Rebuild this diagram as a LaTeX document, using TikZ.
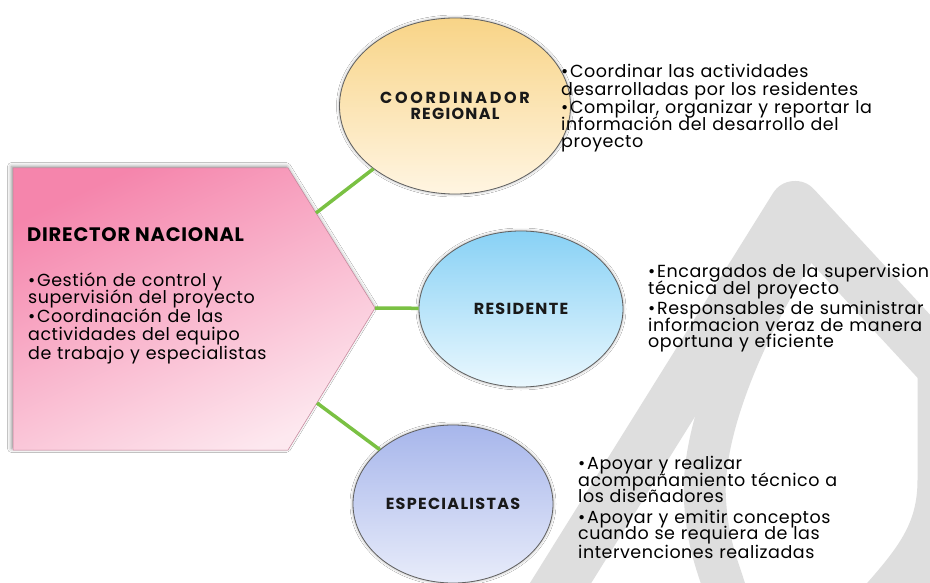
\documentclass[tikz,border=0pt]{standalone}
\usepackage{fontspec}
\setmainfont{Poppins}
\newfontfamily\headfont[LetterSpace=8]{Poppins}
\newfontfamily\headfontwide[LetterSpace=17]{Poppins}
\newfontfamily\titlefont[LetterSpace=4]{Poppins}
\newfontfamily\descfont[LetterSpace=3]{Poppins}
\usetikzlibrary{shapes.geometric,shadows.blur}
\definecolor{wmgray}{HTML}{DEDEDE}
\definecolor{linkgreen}{HTML}{7AC143}
\definecolor{pinktop}{HTML}{F585AC}
\definecolor{pinkbot}{HTML}{FDE8EF}
\definecolor{goldtop}{HTML}{F8D487}
\definecolor{goldbot}{HTML}{FFF5E2}
\definecolor{skytop}{HTML}{88D1F5}
\definecolor{skybot}{HTML}{EAF8FE}
\definecolor{lavtop}{HTML}{A7B6EB}
\definecolor{lavbot}{HTML}{E8ECFA}
\definecolor{edgegray}{HTML}{606060}
\newcommand\bitem{\par\noindent\hangindent=9pt\hangafter=1\makebox[9pt][l]{\textbullet}}
\newcommand\listsetup[2]{\fontsize{17.5}{#1}\selectfont\setlength{\parskip}{#2}\setlength{\lineskiplimit}{-20pt}\setlength{\lineskip}{0pt}}
\tikzset{
  wm/.style={draw=wmgray, line width=52pt, line cap=butt, line join=round},
  conn/.style={draw=linkgreen, line width=3.5pt},
  dirshape/.style={draw=pinktop!60!gray, line width=0.5pt, top color=pinktop, bottom color=pinkbot, shading angle=25,
     blur shadow={shadow xshift=-1.5pt, shadow yshift=1.5pt, shadow blur radius=4pt, shadow opacity=45}},
  bubble/.style={ellipse, draw=edgegray, line width=0.8pt, inner sep=0pt,
     blur shadow={shadow xshift=0pt, shadow yshift=0pt, shadow blur radius=3pt, shadow opacity=40},
     font=\headfont\bfseries\fontsize{16}{16}\selectfont, align=center, text=black!90},
  desc/.style={anchor=base west, inner sep=0pt, text width=380pt, align=left,
     font=\descfont\fontsize{17.5}{16.8}\selectfont, text=black},
}
\begin{document}
\begin{tikzpicture}[x=1pt,y=-1pt]
\useasboundingbox (0,0) rectangle (930,583);
\fill[white] (0,0) rectangle (930,583);
% watermark
\begin{scope}
\clip (0,0) rectangle (930,583);
\draw[wm] (550,600) -- (795,207) -- (955,380);
\draw[wm, line width=55pt] (945,340) -- (945,480) .. controls (945,535) and (920,565) .. (880,610);
\draw[wm, line width=42pt] (805,235) .. controls (760,300) and (700,420) .. (705,500) .. controls (708,550) and (720,570) .. (728,600);
\end{scope}
% director shape
\path[dirshape] (13,168) -- (288,168) -- (375,308) -- (288,450) -- (13,450) -- cycle;
\coordinate (d1) at (316,213);
\coordinate (d2) at (375,308);
\coordinate (d3) at (317,403);
% bubbles
\node[bubble, minimum width=231pt, minimum height=176pt, top color=goldtop, bottom color=goldbot] (coord) at (455,106) {{\headfontwide COORDINADOR}\\REGIONAL};
\node[bubble, minimum width=204pt, minimum height=156pt, top color=skytop, bottom color=skybot] (res) at (521,309) {RESIDENTE};
\node[bubble, minimum width=200pt, minimum height=158pt, top color=lavtop, bottom color=lavbot] (esp) at (453,504) {ESPECIALISTAS};
% connectors
\draw[conn] (d1) -- (coord);
\draw[conn] (d2) -- (res);
\draw[conn] (d3) -- (esp);
% director text
\node[anchor=base west, inner sep=0pt, font=\titlefont\bfseries\fontsize{19.5}{21}\selectfont, text=black] (dirtitle) at (27,241) {DIRECTOR NACIONAL};
\node[desc] (dirlist) at (28,267) {\listsetup{17.6pt}{1.5pt}%
\bitem Gestión de control y\\supervisión del proyecto
\bitem Coordinación de las\\actividades del equipo\\de trabajo y especialistas};
% descriptions
\node[desc] (coordlist) at (561,60) {\listsetup{17.4pt}{0.6pt}%
\bitem Coordinar las actividades\\desarrolladas por los residentes
\bitem Compilar, organizar y reportar la\\información del desarrollo del\\proyecto};
\node[desc] (reslist) at (648,258) {\listsetup{16.8pt}{3pt}%
\bitem Encargados de la supervision\\técnica del proyecto
\bitem Responsables de suministrar\\informacion veraz de manera\\oportuna y eficiente};
\node[desc] (esplist) at (578,449) {\listsetup{16.3pt}{4.5pt}%
\bitem Apoyar y realizar\\acompañamiento técnico a\\los diseñadores
\bitem Apoyar y emitir conceptos\\cuando se requiera de las\\intervenciones realizadas};
\end{tikzpicture}
\end{document}
